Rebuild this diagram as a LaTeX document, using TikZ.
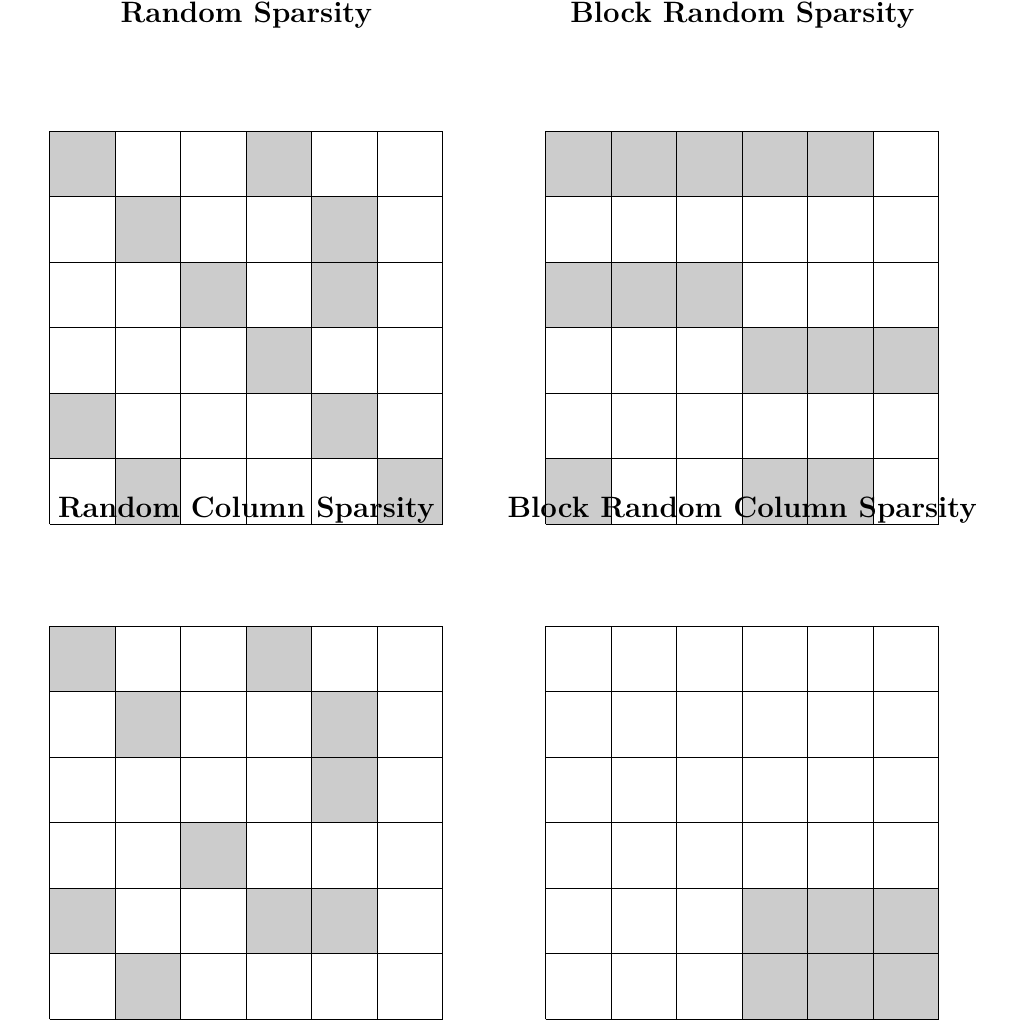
\documentclass[tikz,border=0pt]{standalone}
\usepackage{xcolor}
\usepackage{tikz}
\usetikzlibrary{positioning}
\definecolor{maskgray}{HTML}{CCCCCC}

\begin{document}
\begin{tikzpicture}[
    cell/.style   = {fill=maskgray},
    gline/.style  = {draw=black, line width=0.45pt},
    ptitle/.style = {font=\fontsize{12.8}{15}\selectfont\bfseries}
  ]
  \useasboundingbox (-0.76,-13.63) rectangle (14.87,2.0);

  % ── Random Sparsity ─────────────────────────────────────────────────────
  \begin{scope}[shift={(0,0)}]
    \foreach \c/\r in {0/0,3/0, 1/1,4/1, 2/2,4/2, 3/3, 0/4,4/4, 1/5,5/5}
      \fill[cell] (\c,-\r) rectangle ++(1,-1);
    \draw[gline] (0,-6) grid (6,0);
    \node[ptitle] (rs) at (3,1.77) {Random Sparsity};
  \end{scope}

  % ── Block Random Sparsity ───────────────────────────────────────────────
  \begin{scope}[shift={(7.57,0)}]
    \foreach \c/\r in {0/0,1/0,2/0,3/0,4/0, 0/2,1/2,2/2, 3/3,4/3,5/3, 0/5,3/5,4/5}
      \fill[cell] (\c,-\r) rectangle ++(1,-1);
    \draw[gline] (0,-6) grid (6,0);
    \node[ptitle] (brs) at (3,1.77) {Block Random Sparsity};
  \end{scope}

  % ── Random Column Sparsity ──────────────────────────────────────────────
  \begin{scope}[shift={(0,-7.56)}]
    \foreach \c/\r in {0/0,3/0, 1/1,4/1, 4/2, 2/3, 0/4,3/4,4/4, 1/5}
      \fill[cell] (\c,-\r) rectangle ++(1,-1);
    \draw[gline] (0,-6) grid (6,0);
    \node[ptitle] (rcs) at (3,1.77) {Random Column Sparsity};
  \end{scope}

  % ── Block Random Column Sparsity ────────────────────────────────────────
  \begin{scope}[shift={(7.57,-7.56)}]
    \foreach \c/\r in {3/4,4/4,5/4, 3/5,4/5,5/5}
      \fill[cell] (\c,-\r) rectangle ++(1,-1);
    \draw[gline] (0,-6) grid (6,0);
    \node[ptitle] (brcs) at (3,1.77) {Block Random Column Sparsity};
  \end{scope}
\end{tikzpicture}
\end{document}
